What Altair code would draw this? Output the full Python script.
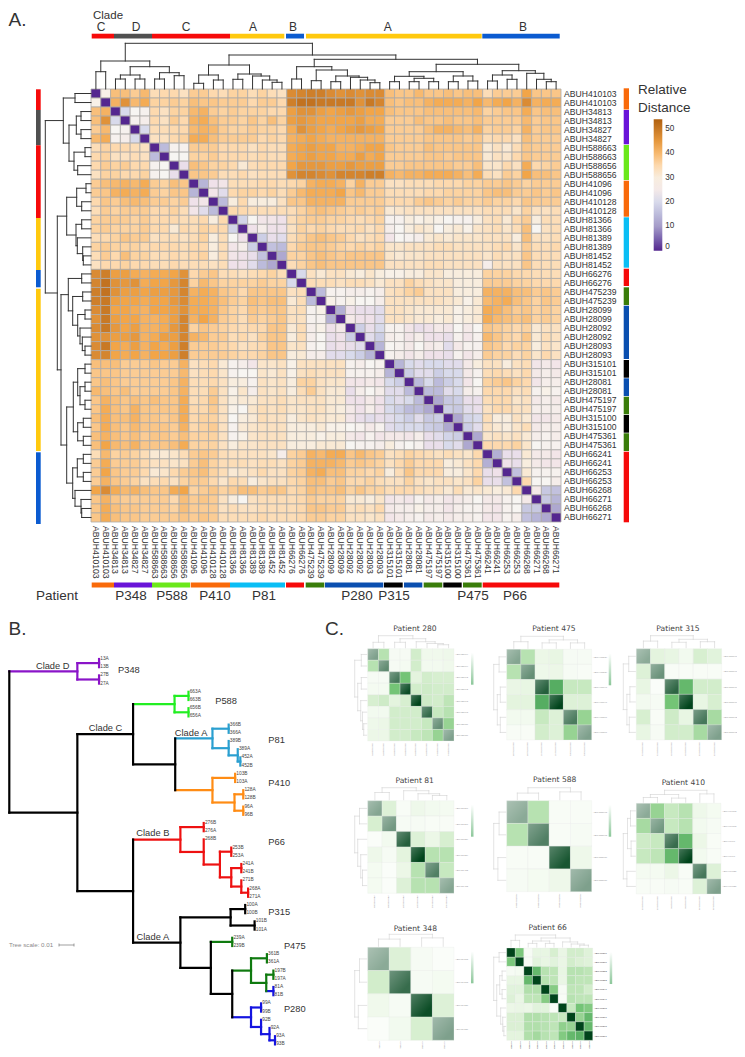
import altair as alt
import pandas as pd

# ---------- A. heat map: leaf names and upper triangle of the distance matrix
leaf_ids = ["410103","410103","34813","34813","34827","34827","588663","588663","588656","588656",
            "41096","41096","410128","410128","81366","81366","81389","81389","81452","81452",
            "66276","66276","475239","475239","28099","28099","28092","28092","28093","28093",
            "315101","315101","28081","28081","475197","475197","315100","315100","475361","475361",
            "66241","66241","66253","66253","66268","66271","66268","66271"]
upper = [
 [29, 39,39,37,40,34,35,35,33, 37,37,35,34,36,36,34,36,34,33, 47,48,49,49,47,46,47,46,47,47, 39,38,38,40,38,38,39,38,39,39, 34,37,37,37,43,38,38,38],
 [41,46,40,42,36,36,37,36, 39,38,38,37,37,37,35,37,37,35, 49,51,51,50,50,50,50,46,50,48, 39,38,39,39,41,42,42,42,41,43, 40,42,43,41,47,41,42,42],
 [20, 28,27, 35,33,36,36, 40,41,37,36,37,36,36,36,35,35, 44,46,46,44,43,44,45,44,43,43, 39,38,38,38,39,39,39,39,39,40, 36,37,38,38,42,38,39,39],
 [27,26, 35,33,37,35, 41,42,39,37,37,36,38,36,39,36, 44,45,44,43,43,43,43,44,42,42, 37,37,37,39,38,38,39,38,38,39, 37,37,37,37,40,37,38,38],
 [20, 34,34,35,35, 40,41,40,37,36,36,37,36,36,35, 42,46,44,43,42,43,44,45,44,43, 37,37,37,37,39,41,41,40,39,41, 36,37,37,36,41,37,38,38],
 [33,33,35,36, 42,42,39,37,37,37,37,35,36,35, 41,42,43,42,41,41,41,41,41,41, 37,37,37,37,38,38,38,38,37,38, 34,35,35,33,39,37,37,37],
 [15, 27,27, 37,37,37,35,35,35,33,35,34,34, 42,43,44,43,43,41,41,42,43,43, 38,37,37,37,39,38,38,38,38,38, 31,33,31,34,38,37,37,37],
 [28,28, 36,36,37,35,35,35,34,35,34,34, 42,43,44,43,43,42,42,44,42,43, 37,37,37,37,38,38,37,38,38,38, 31,33,32,35,38,37,37,37],
 [22, 39,38,36,36,35,31,34,35,35,35, 43,45,45,45,44,44,45,44,44,44, 37,37,38,38,38,38,38,37,37,39, 32,32,35,33,42,35,36,37],
 [38,38,37,34,34,35,33,34,34,34, 46,48,48,47,46,48,48,48,49,49, 41,40,41,41,42,42,42,41,39,42, 34,33,37,36,43,39,39,38],
 [14, 23,24, 34,34,34,35,35,34, 35,36,41,42,42,41,36,41,37,37, 33,33,34,34,34,35,35,35,36,36, 37,37,38,37,36,37,37,37],
 [24,21, 35,36,36,35,36,34, 37,40,42,42,42,43,38,40,37,37, 34,34,34,34,35,35,36,36,36,36, 38,39,39,37,37,38,37,38],
 [15, 30,35,30,30,30,33, 38,38,41,41,41,41,37,37,37,37, 35,35,35,37,38,37,36,37,36,36, 37,36,36,35,38,37,37,37],
 [35,35,34,34,34,34, 34,36,38,39,38,37,36,37,36,37, 31,32,33,33,33,33,33,33,33,33, 34,34,34,32,36,33,33,34],
 [19, 28,24,24,23, 34,36,37,37,36,36,35,34,35,36, 27,27,30,29,30,29,28,27,27,30, 33,34,31,35,37,30,34,34],
 [23,26,23,23, 33,36,35,36,35,34,34,35,33,35, 26,28,30,32,31,28,30,31,29,32, 33,34,32,34,39,28,33,34],
 [18, 22,21, 34,36,38,39,38,37,35,33,34,35, 24,28,27,26,31,32,31,32,32,32, 33,33,33,30,39,33,33,34],
 [16,15, 35,37,38,38,37,36,35,36,35,36, 32,32,33,33,33,34,34,33,33,33, 33,34,35,32,37,34,34,35],
 [12, 36,36,38,39,38,37,38,38,38,38, 32,31,32,32,33,33,33,33,33,33, 32,34,33,33,38,34,34,34],
 [34,36,38,39,38,38,38,38,38,38, 33,33,33,33,34,34,33,33,33,33, 26,33,33,33,38,34,34,34],
 [20, 33,31,33,33,31,30,32,30, 29,29,30,30,32,32,30,30,30,30, 36,36,36,35,35,34,34,34],
 [34,34,34,33,34,34,33,31, 33,33,36,34,33,32,32,30,30,30, 37,37,37,36,36,35,35,35],
 [15, 27,27,26,26,27,26, 33,34,36,37,33,33,33,30,30,30, 41,41,41,39,39,37,38,37],
 [29,27,29,28,28,26, 33,33,33,33,33,33,32,31,29,31, 40,41,42,39,38,36,38,37],
 [13, 23,22,22,21, 33,33,32,31,31,31,31,29,30,31, 42,41,39,37,38,36,37,36],
 [25,23,23,21, 33,33,32,31,31,30,31,29,30,31, 42,40,39,38,39,36,37,36],
 [18, 22,20, 27,27,24,22,23,25,24,28,25,28, 38,37,36,35,36,31,33,33],
 [21,18, 26,27,24,26,23,23,22,27,24,27, 40,38,36,35,38,31,34,33],
 [14, 28,27,25,28,25,26,21,25,27,27, 38,37,35,36,36,30,33,32],
 [27,26,24,26,23,23,22,27,24,26, 37,36,36,34,36,32,35,33],
 [14,20,21,20,20,21,21,25,30, 33,33,30,33,34,24,25,24],
 [18,21,21,18,20,20,25,27, 34,35,34,33,35,25,26,25],
 [15,20,15,18,20,24,28, 36,37,38,36,35,24,26,26],
 [15,15,21,20,26,27, 35,35,35,33,34,27,29,27],
 [12,17,18,22,22, 34,35,35,32,33,25,26,25],
 [18,17,21,22, 33,35,35,33,33,26,26,26],
 [12,19,20, 34,30,30,33,31,24,24,25],
 [18,21, 33,31,30,32,34,25,26,26],
 [12, 32,33,32,33,31,26,27,26],
 [35,35,35,36,32,28,27,27],
 [13,22,22,31,25,25,24],
 [23,22,30,25,24,24],
 [16,31,27,27,27],
 [35,28,28,26],
 [25,17,16],
 [17,14],
 [12],
]
legend_ticks = [0, 10, 20, 30, 40, 50]

# dendrograms: (left, right, height); integers are leaves
top_tree = (((0,1,17.3),(((2,3,10),(4,5,10),14),((6,7,10),(8,9,13.3),16.3),22.3),28),
            ((((10,11,5.7),(12,13,9),14),((14,15,9.7),(16,(17,(18,19,6.7),9),13),15),24),
             (((20,21,10),((22,23,8.3),((24,25,7.3),(26,(27,(28,29,6.3),9),11.7),13),19),22.3),
              ((((30,31,7.3),((32,33,7.3),(34,35,7.3),10.7),12.7),((36,37,7.3),(38,39,8),13),17.3),
               (((40,41,8),(42,43,9.7),14),(44,(45,(46,47,7.3),9.7),15.7),18.3),24.7),29.7),34),45.7)
left_tree = (((0,1,16),(((2,3,10),(4,5,10),14.7),((6,7,6),(8,9,13.3),17),22),27.7),
             ((((10,11,5),(12,13,9.3),14.3),((14,15,9.3),(16,(17,(18,19,7.7),8.3),13.7),15),24.3),
              (((20,21,9.3),((22,23,8.3),((24,25,6),(26,(27,(28,29,6),8.7),11),13.3),18.3),22.7),
               ((((30,31,6),((32,33,6),(34,35,6),11),13.3),((36,37,7.7),(38,39,7.7),13.3),17.7),
                (((40,41,7.7),(42,43,7.7),13.7),(44,(45,(46,47,9.3),10),16),18.3),24.3),30),33.7),45.7)

RED, GRAY, YEL, BLU = "#f60a0a", "#505050", "#ffc90e", "#0b5bd0"
ORA, PUR, LIM, CYA, DGR, NAV, BLK = "#f96a0a", "#6a14d8", "#6be81a", "#0abef5", "#3a7d0a", "#0a4fb0", "#000000"
top_start = [91.7,114,152,230,286,306,482.3]
top_end = [114,152,230,284.3,304,481.7,559.7]
top_color = [RED,GRAY,RED,YEL,BLU,YEL,BLU]
clade_names = ["C","D","C","A","B","A","B"]
clade_x = [101,136,186,253,293,387.7,523]
bot_start = [91.7,114,152,190.7,230,286,305.7,325,384,404,423.7,443.3,463,482.7]
bot_end = [114,152,190,230,285,304,324.3,383.3,402.7,422.3,442.3,461.7,481.7,559.3]
bot_color = [ORA,PUR,LIM,ORA,CYA,RED,DGR,NAV,BLK,NAV,DGR,BLK,DGR,RED]
right_start = [88.3,110,145,180.7,217.3,268.7,287.3,305.7,360,378.3,396.7,415,433.3,451.7]
right_end = [109.5,144.3,180,216.7,267.7,286,305,359,377.7,396,414.3,432.7,451,522.3]
right_color = bot_color[:7] + [NAV,BLK,NAV,DGR,BLK,DGR,RED]
left_start = [89.3,110,145.3,218,270,288.7,452.3]
left_end = [110,145.3,218,270,287.3,451,524]
left_color = [RED,GRAY,RED,YEL,BLU,YEL,BLU]
patient_names = ["Patient","P348","P588","P410","P81","P280","P315","P475","P66"]
patient_x = [57,131,172,215,264,357,394,473,515]

# ---------- B. phylogeny: (node position, colour, children); strings are leaves
K, P2, G2, C2, O2, R2, D2, B2 = "#000000", "#8a14c8", "#22ee22", "#2a9fd0", "#ff8c14", "#ee1111", "#0f7a0f", "#1414e0"
phylo = (5, K, [
    (215, P2, [(282, P2, ["13A","13B"]), (282, P2, ["27B","27A"])]),
    (215, K, [
        (387, K, [
            (515, G2, [(558, G2, ["663A","663B"]), (558, G2, ["656B","656A"])]),
            (517, K, [
                (632, C2, [(682, C2, ["366B","366A"]),
                           (682, C2, ["389B", (710, C2, ["389A", (718, C2, ["452A","452B"])])])]),
                (632, O2, [(702, O2, ["103B","103A"]),
                           (700, O2, [(727, O2, ["128A","128B"]), (727, O2, ["96A","96B"])])]),
            ]),
        ]),
        (387, K, [
            (533, R2, [(605, R2, ["276B","276A"]),
                       (605, R2, ["268B", (655, R2, [(690, R2, ["253B","253A"]),
                        (690, R2, [(721, R2, ["241A","241B"]),
                                   (721, R2, ["271B", (742, R2, ["268A","271A"])])])])])]),
            (533, K, [
                (688, K, [(733, K, ["100A","100B"]), (762, K, ["101B","101A"])]),
                (627, K, [
                    (693, D2, ["239A","239B"]),
                    (693, K, [
                        (751, D2, [(800, D2, ["361B","361A"]),
                                   (798, D2, [(820, D2, ["197B","197A"]), (820, B2, ["81A","81B"])])]),
                        (751, B2, [(782, B2, ["99A","99B"]),
                                   (782, B2, ["92B", (808, B2, ["92A", (825, B2, ["93A","93B"])])])]),
                    ]),
                ]),
            ]),
        ]),
    ]),
])
phylo_text = ["Clade D","Clade C","Clade A","Clade B","Clade A","P348","P588","P81","P410","P66","P315","P475","P280"]
phylo_text_z = [(139,198),(302,383),(566,400),(448,700),(448,1010),(374,211),(674,302),(830,421),(838,549),(830,727),(838,936),(886,1038),(886,1227)]

# ---------- C. per patient heat maps
panels = [
 dict(title="Patient 280", box=(367.7,454,648.7,741), tc=(415,629.3), names=["28099","28099","28092","28092","28093","28093","28081","28081"],
      fade=[.5,.62,.72,.95,1,.8,.6,.5],
      m=[[1,.3,.03,.03,.2,.06,.06,.07],[.3,1,.03,.04,.2,.05,.05,.06],[.03,.03,1,.5,.12,.2,.18,.18],[.04,.04,.5,1,.2,.22,.2,.2],
         [.18,.22,.12,.18,1,.22,.2,.28],[.05,.05,.2,.2,.2,1,.25,.3],[.07,.08,.2,.2,.2,.25,1,.4],[.08,.08,.2,.2,.25,.28,.4,1]],
      tree=((0,1,.45),((2,3,.45),(4,(5,(6,7,.25),.35),.5),.75),1)),
 dict(title="Patient 475", box=(506.7,591.7,649.3,740), tc=(554,629.3), names=["475239","475239","475197","475197","475361","475361"],
      fade=[.48,.6,.85,1,.7,.5],
      m=[[1,.3,.08,.1,.03,.03],[.3,1,.07,.08,.03,.02],[.09,.1,1,.6,.25,.25],[.12,.12,.6,1,.15,.15],[.05,.05,.25,.15,1,.4],[.02,.02,.2,.15,.4,1]],
      tree=((0,1,.55),((2,3,.45),(4,5,.45),.7),1)),
 dict(title="Patient 315", box=(636.3,721.7,648.7,740), tc=(678,628.7), names=["315101","315101","315100","315100","315102","315102"],
      fade=[.45,.58,.82,1,.72,.5],
      m=[[1,.12,.1,.05,.18,.13],[.15,1,.02,.02,.02,.02],[.1,.01,1,.55,.2,.2],[.05,.03,.5,1,.1,.18],[.18,.02,.22,.1,1,.35],[.1,.03,.2,.2,.35,1]],
      tree=((0,1,.55),((2,3,.45),(4,5,.5),.7),1)),
 dict(title="Patient 81", box=(367.7,454,800.7,893.3), tc=(414.7,781.3), names=["81366","81366","81389","81389","81452","81452"],
      fade=[.48,.55,.85,1,.68,.48],
      m=[[1,.15,.02,.07,.05,.04],[.18,1,.03,.03,.02,.02],[.01,.05,1,.15,.08,.18],[.07,.03,.12,1,.3,.3],[.04,.01,.08,.3,1,.25],[.04,.01,.15,.3,.3,1]],
      tree=((0,1,.6),(2,(3,(4,5,.35),.5),.75),1)),
 dict(title="Patient 588", box=(506.7,591.7,800.7,891.7), tc=(554.7,780.3), names=["588663","588663","588656","588656"],
      fade=[.45,.68,.9,.5],
      m=[[1,.3,.02,.02],[.3,1,.02,.03],[.02,.02,1,.07],[.03,.04,.07,1]],
      tree=((0,1,.55),(2,3,.65),1)),
 dict(title="Patient 410", box=(636.3,721,803.3,894), tc=(683.3,783), names=["410103","410103","41096","41096","410128","410128"],
      fade=[.45,.55,.78,1,.72,.5],
      m=[[1,.4,.25,.3,.07,.04],[.35,1,.25,.3,.05,.03],[.22,.25,1,.55,.08,.02],[.25,.28,.55,1,.05,.02],[.04,.04,.08,.02,1,.15],[.02,.02,.03,.02,.15,1]],
      tree=(((0,1,.4),(2,3,.35),.65),(4,5,.7),1)),
 dict(title="Patient 348", box=(367.7,454,947.3,1040.3), tc=(415.3,929), names=["34813","34813","34827","34827"],
      fade=[.45,.78,.95,.5], small=True,
      m=[[1,.15,.03,.01],[.2,1,.03,.04],[.06,.03,1,.15],[.01,.05,.18,1]],
      tree=((0,1,.6),(2,3,.7),1)),
 dict(title="Patient 66", box=(506.7,592.7,948,1040.3), tc=(547.7,927.5), names=["66276","66276","66253","66253","66241","66241","66268","66271","66268","66271"],
      fade=[1]*10, small=True,
      m=[[1,.48,.03,.1,.1,.18,.09,.2,.2,.14],[.48,1,.03,.13,.1,.13,.09,.2,.16,.14],[.03,.04,1,.55,.3,.28,.1,.3,.3,.28],
         [.1,.1,.55,1,.3,.28,.09,.3,.28,.28],[.13,.13,.32,.32,1,.45,.03,.28,.28,.2],[.15,.09,.28,.28,.45,1,.02,.3,.28,.28],
         [.08,.09,.08,.13,.13,.02,1,.25,.5,.46],[.16,.16,.32,.32,.3,.28,.25,1,.4,.55],[.16,.16,.32,.32,.3,.28,.42,.4,1,.55],[.12,.12,.32,.36,.3,.28,.46,.55,.58,1]],
      tree=((0,1,.55),(((2,3,.3),(4,5,.3),.5),(6,(7,(8,9,.15),.25),.42),.75),1)),
]

# ---------- helpers
W, H = 729, 1041
FIGX = alt.Scale(domain=[0, 745], range=[-8, 737], zero=False, nice=False)
FIGY = alt.Scale(domain=[0, 1057], range=[-8, 1049], zero=False, nice=False)
layers = []


def text_layer(texts, xs, ys, size, color="#333333", font="Liberation Sans", align="center", baseline="middle", angle=0):
    df = pd.DataFrame({"t": texts, "x": xs, "y": ys})
    layers.append(alt.Chart(df).mark_text(fontSize=size, color=color, font=font, align=align, baseline=baseline, angle=angle)
                  .encode(x=alt.X("x:Q", scale=FIGX, axis=None), y=alt.Y("y:Q", scale=FIGY, axis=None), text="t:N"))


def stripes(starts, ends, colors, a, b, vertical=False):
    df = pd.DataFrame({"s": starts, "e": ends, "c": colors, "a": a, "b": b})
    if vertical:
        enc = dict(x=alt.X("a:Q", scale=FIGX, axis=None), x2="b:Q", y=alt.Y("s:Q", scale=FIGY, axis=None), y2="e:Q")
    else:
        enc = dict(x=alt.X("s:Q", scale=FIGX, axis=None), x2="e:Q", y=alt.Y("a:Q", scale=FIGY, axis=None), y2="b:Q")
    layers.append(alt.Chart(df).mark_rect().encode(color=alt.Color("c:N", scale=None, legend=None), **enc))


def tree_segments(node):
    if isinstance(node, int):
        return node + .5, 0.0, []
    pa, ha, sa = tree_segments(node[0])
    pb, hb, sb = tree_segments(node[1])
    h = node[2]
    segs = sa + sb + [(pa, ha, pa, h), (pb, hb, pb, h), (pa, h, pb, h)]
    return (pa + pb) / 2, h, segs


def dendro(tree, pos_scale, h_scale, vertical, color, width):
    """vertical=True: tree above the map; False: tree left of the map"""
    _, _, segs = tree_segments(tree)
    df = pd.DataFrame(segs, columns=["p", "h", "p2", "h2"])
    if vertical:
        enc = dict(x=alt.X("p:Q", scale=pos_scale, axis=None), x2="p2:Q", y=alt.Y("h:Q", scale=h_scale, axis=None), y2="h2:Q")
    else:
        enc = dict(y=alt.Y("p:Q", scale=pos_scale, axis=None), y2="p2:Q", x=alt.X("h:Q", scale=h_scale, axis=None), x2="h2:Q")
    layers.append(alt.Chart(df).mark_rule(color=color, strokeWidth=width, strokeCap="square").encode(**enc))


# ---------- A: heat map
MX0, MX1, MY0, MY1 = 91, 561, 89, 522
n = len(leaf_ids)
matrix = [[0] * n for _ in range(n)]
for i, row in enumerate(upper):
    assert len(row) == n - 1 - i, (i, len(row))
    for k, v in enumerate(row):
        matrix[i][i + 1 + k] = v
        matrix[i + 1 + k][i] = v
cells = pd.DataFrame([{"c": j, "c2": j + 1, "r": i, "r2": i + 1, "v": matrix[i][j]} for i in range(n) for j in range(n)])
COLX = alt.Scale(domain=[0, n], range=[MX0 - 8, MX1 - 8], zero=False, nice=False)
ROWY = alt.Scale(domain=[0, n], range=[MY0 - 8, MY1 - 8], zero=False, nice=False)
layers.append(alt.Chart(cells).mark_rect(stroke="#adaba8", strokeWidth=0.8).encode(
    x=alt.X("c:Q", scale=COLX, axis=None), x2="c2:Q",
    y=alt.Y("r:Q", scale=ROWY, axis=None), y2="r2:Q",
    color=alt.Color("v:Q", scale=alt.Scale(domain=[0, 10, 20, 28, 35, 43, 54],
                                           range=["#54278f", "#a59cc9", "#d8daeb", "#f7f5f2", "#fdd9ae", "#f2a548", "#b0600f"]),
                    legend=alt.Legend(orient="none", legendX=653.7 - 8, legendY=119.3 - 8, title=None, values=legend_ticks,
                                      gradientLength=131.4, gradientThickness=8.6, labelFontSize=8.2, labelFont="Liberation Sans",
                                      labelColor="#333333", tickCount=6, labelOffset=3, gradientStrokeWidth=0))))
dendro(top_tree, COLX, alt.Scale(domain=[0, 46], range=[MY0 - 8, MY0 - 8 - 46], zero=False, nice=False), True, "#333333", 1)
dendro(left_tree, ROWY, alt.Scale(domain=[0, 46], range=[MX0 - 8, MX0 - 8 - 46], zero=False, nice=False), False, "#333333", 1)

df = pd.DataFrame({"t": ["ABUH" + s for s in leaf_ids], "p": [i + .5 for i in range(n)]})
layers.append(alt.Chart(df).mark_text(fontSize=8.6, font="Liberation Sans", color="#333333", align="left", baseline="middle")
              .encode(x=alt.value(564 - 8), y=alt.Y("p:Q", scale=ROWY, axis=None), text="t:N"))
layers.append(alt.Chart(df).mark_text(fontSize=8.6, font="Liberation Sans", color="#333333", align="left", baseline="middle", angle=90)
              .encode(y=alt.value(526 - 8), x=alt.X("p:Q", scale=COLX, axis=None), text="t:N"))

stripes(top_start, top_end, top_color, 33.7, 38.5)
stripes(bot_start, bot_end, bot_color, 582.5, 587.5)
stripes(right_start, right_end, right_color, 623.7, 629, vertical=True)
stripes(left_start, left_end, left_color, 36, 40.7, vertical=True)

text_layer(["A."], [8.5], [20], 19, align="left")
text_layer(["B."], [8.5], [629], 19, align="left")
text_layer(["C."], [325], [629], 19, align="left")
text_layer(["Clade"], [93], [15.5], 11.5, align="left")
text_layer(clade_names, clade_x, [26.5] * 7, 12)
text_layer(patient_names, patient_x, [596] * 9, 13.5)
text_layer(["Relative", "Distance"], [638, 638], [90, 108], 13.5, align="left")

# ---------- B: phylogeny (positions squeezed slightly so the root stays on the page)
seg_rows, leaf_rows = [], []
leaf_y = [659 + 8.2 * i for i in range(48)]
counter = [0]


def tx(z):
    return 9.3 + (z - 5) / 3 * (275 - 9.3) / ((825 - 5) / 3)


def walk(node, parent_x):
    x, col, kids = node
    ys = []
    for k in kids:
        if isinstance(k, str):
            y = leaf_y[counter[0]]
            counter[0] += 1
            leaf_rows.append((k, tx(x) + 1.2, y))
        else:
            y = walk(k, x)
        ys.append(y)
    y = (ys[0] + ys[-1]) / 2
    seg_rows.append((tx(x), ys[0], tx(x), ys[-1], col))
    if x != parent_x:
        seg_rows.append((tx(parent_x), y, tx(x), y, col))
    return y


walk(phylo, phylo[0])
seg = pd.DataFrame(seg_rows, columns=["x", "y", "x2", "y2", "c"])
layers.append(alt.Chart(seg).mark_rule(strokeWidth=2.2, strokeCap="square").encode(
    x=alt.X("x:Q", scale=FIGX, axis=None), x2="x2:Q", y=alt.Y("y:Q", scale=FIGY, axis=None), y2="y2:Q",
    color=alt.Color("c:N", scale=None, legend=None)))
text_layer([r[0] for r in leaf_rows], [r[1] for r in leaf_rows], [r[2] for r in leaf_rows], 4.8, color="#444444", align="left")
text_layer(phylo_text, [tx(z[0]) for z in phylo_text_z], [600 + z[1] / 3 for z in phylo_text_z], 9.3, color="#333333")
text_layer(["Tree scale: 0.01"], [9], [944.5], 6.2, color="#8a8a8a", align="left")
bar = pd.DataFrame({"x": [59, 59, 74], "x2": [74, 59, 74], "y": [945, 943.5, 943.5], "y2": [945, 946.5, 946.5]})
layers.append(alt.Chart(bar).mark_rule(color="#777777", strokeWidth=0.7).encode(
    x=alt.X("x:Q", scale=FIGX, axis=None), x2="x2:Q", y=alt.Y("y:Q", scale=FIGY, axis=None), y2="y2:Q"))

# ---------- C: small heat maps
GREENS = alt.Scale(domain=[0, .25, .5, .75, 1], range=["#fcfefb", "#c7e9c0", "#74c476", "#238b45", "#00441b"])
SHEEN = alt.LinearGradient(gradient="linear", x1=0, y1=0, x2=1, y2=1,
                           stops=[alt.GradientStop(color="rgba(255,255,255,0.28)", offset=0),
                                  alt.GradientStop(color="rgba(255,255,255,0)", offset=0.75)])
for p in panels:
    x0, x1, y0, y1 = p["box"]
    k = len(p["m"])
    small = p.get("small", False)
    PX = alt.Scale(domain=[0, k], range=[x0 - 8, x1 - 8], zero=False, nice=False)
    PY = alt.Scale(domain=[0, k], range=[y0 - 8, y1 - 8], zero=False, nice=False)
    rows = [{"c": j, "c2": j + 1, "r": i, "r2": i + 1, "v": p["m"][i][j], "o": p["fade"][i] if i == j else 1}
            for i in range(k) for j in range(k)]
    frame = pd.DataFrame(rows)
    layers.append(alt.Chart(frame).mark_rect(stroke="#e8ece8", strokeWidth=0.3).encode(
        x=alt.X("c:Q", scale=PX, axis=None), x2="c2:Q", y=alt.Y("r:Q", scale=PY, axis=None), y2="r2:Q",
        color=alt.Color("v:Q", scale=GREENS, legend=None), opacity=alt.Opacity("o:Q", scale=None, legend=None)))
    if k < 10:
        layers.append(alt.Chart(frame[frame["c"] == frame["r"]]).mark_rect(fill=SHEEN).encode(
            x=alt.X("c:Q", scale=PX, axis=None), x2="c2:Q", y=alt.Y("r:Q", scale=PY, axis=None), y2="r2:Q"))
    dendro(p["tree"], PX, alt.Scale(domain=[0, 1], range=[y0 - 8 - 1, y0 - 8 - 13], zero=False, nice=False), True, "#d2d2d2", 0.6)
    dendro(p["tree"], PY, alt.Scale(domain=[0, 1], range=[x0 - 8 - 1, x0 - 8 - 13], zero=False, nice=False), False, "#d2d2d2", 0.6)
    lab = pd.DataFrame({"t": ["ABUH" + s for s in p["names"]], "p": [i + .5 for i in range(k)]})
    lc = "#444444" if k == 10 else "#999999"
    layers.append(alt.Chart(lab).mark_text(fontSize=2.3, font="Liberation Sans", color=lc, align="left", baseline="middle")
                  .encode(x=alt.value(x1 - 8 + 1.2), y=alt.Y("p:Q", scale=PY, axis=None), text="t:N"))
    layers.append(alt.Chart(lab).mark_text(fontSize=1.5 if small else 2.3, font="Liberation Sans", color=lc, align="left", baseline="middle", angle=90)
                  .encode(y=alt.value(y1 - 8 + (1 if small else 2)), x=alt.X("p:Q", scale=PX, axis=None), text="t:N"))
    grad = alt.LinearGradient(gradient="linear", x1=0, x2=0, y1=0, y2=1,
                              stops=[alt.GradientStop(color="#ffffff", offset=0), alt.GradientStop(color="#8cc79a", offset=1)])
    layers.append(alt.Chart(pd.DataFrame({"a": [0]})).mark_rect(fill=grad).encode(
        x=alt.value(x1 - 8 + 17), x2=alt.value(x1 - 8 + 19.5), y=alt.value(y0 - 8 + 4), y2=alt.value(y0 - 8 + 36)))
    text_layer([p["title"]], [p["tc"][0]], [p["tc"][1]], 7.6, color="#444444", font="DejaVu Sans")

chart = (alt.layer(*layers)
         .resolve_scale(x="independent", y="independent", color="independent")
         .properties(width=W, height=H, padding=0, autosize=alt.AutoSizeParams(type="none"), background="white")
         .configure_view(strokeWidth=0))
chart.save("out.html", embed_options={"renderer": "svg", "actions": False})
